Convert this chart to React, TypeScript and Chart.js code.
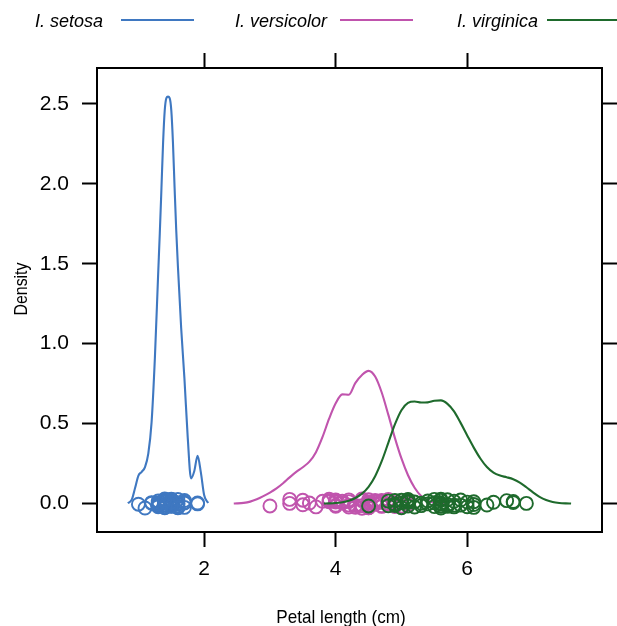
import React, { useEffect, useRef } from "react";
import { Chart, registerables } from "chart.js";

Chart.register(...registerables);

// ---------- data ----------
const SPECIES = ["I. setosa", "I. versicolor", "I. virginica"];
const COLORS = ["#3f78c1", "#c054ad", "#1e6a2c"];
const X_TITLE = "Petal length (cm)";
const Y_TITLE = "Density";
const X_TICKS = [2, 4, 6];
const Y_TICKS = [0, 0.5, 1, 1.5, 2, 2.5];

// petal lengths (observations shown as circles)
const SETOSA_LEN = [1.4, 1.4, 1.3, 1.5, 1.4, 1.7, 1.4, 1.5, 1.4, 1.5, 1.5, 1.6, 1.4, 1.1, 1.2, 1.5, 1.3, 1.4, 1.7, 1.5, 1.7, 1.5, 1.0, 1.7, 1.9, 1.6, 1.6, 1.5, 1.4, 1.6, 1.6, 1.5, 1.5, 1.4, 1.5, 1.2, 1.3, 1.4, 1.3, 1.5, 1.3, 1.3, 1.3, 1.6, 1.9, 1.4, 1.6, 1.4, 1.5, 1.4];
const VERSICOLOR_LEN = [4.7, 4.5, 4.9, 4.0, 4.6, 4.5, 4.7, 3.3, 4.6, 3.9, 3.5, 4.2, 4.0, 4.7, 3.6, 4.4, 4.5, 4.1, 4.5, 3.9, 4.8, 4.0, 4.9, 4.7, 4.3, 4.4, 4.8, 5.0, 4.5, 3.5, 3.8, 3.7, 3.9, 5.1, 4.5, 4.5, 4.7, 4.4, 4.1, 4.0, 4.4, 4.6, 4.0, 3.3, 4.2, 4.2, 4.2, 4.3, 3.0, 4.1];
const VIRGINICA_LEN = [6.0, 5.1, 5.9, 5.6, 5.8, 6.6, 4.5, 6.3, 5.8, 6.1, 5.1, 5.3, 5.5, 5.0, 5.1, 5.3, 5.5, 6.7, 6.9, 5.0, 5.7, 4.9, 6.7, 4.9, 5.7, 6.0, 4.8, 4.9, 5.6, 5.8, 6.1, 6.4, 5.6, 5.1, 5.6, 6.1, 5.6, 5.5, 4.8, 5.4, 5.6, 5.1, 5.1, 5.9, 5.7, 5.2, 5.0, 5.2, 5.4, 5.1];

// vertical jitter of the circles around zero
const SETOSA_JIT = [0.012, -0.021, 0.004, 0.027, -0.008, 0.019, -0.026, 0.001, 0.023, -0.015, 0.009, -0.004, 0.017, -0.028, 0.006, 0.021, -0.012, -0.019, 0.003, 0.014, -0.024, 0.026, -0.004, 0.008, 0.003, -0.002, -0.027, 0.011, 0.024, -0.017, 0.005, -0.009, 0.02, -0.023, 0.015, 0.002, -0.014, 0.028, -0.006, 0.01, -0.02, 0.016, -0.003, 0.025, -0.002, 0.007, -0.025, 0.013, -0.018, 0.022];
const VERSICOLOR_JIT = [-0.018, 0.024, 0.006, -0.011, 0.019, -0.027, 0.013, 0.026, -0.005, 0.017, 0.021, -0.022, 0.009, -0.014, 0.003, 0.028, -0.009, 0.015, -0.024, 0.011, -0.003, 0.022, -0.019, 0.007, -0.012, 0.018, 0.025, -0.016, 0.002, -0.008, 0.014, -0.021, 0.027, -0.006, 0.01, -0.026, 0.02, -0.013, 0.004, 0.016, -0.029, 0.008, -0.017, 0.001, 0.023, -0.01, 0.012, -0.023, -0.015, 0.005];
const VIRGINICA_JIT = [0.009, -0.016, 0.022, -0.004, 0.014, 0.018, -0.015, -0.009, -0.021, 0.011, 0.025, -0.013, 0.005, -0.026, 0.017, 0.002, -0.019, 0.013, 0.001, 0.021, -0.007, -0.012, 0.006, 0.019, 0.024, -0.02, 0.015, -0.003, 0.027, -0.011, -0.024, 0.008, -0.017, 0.012, 0.02, -0.006, 0.003, 0.026, -0.014, 0.016, -0.028, 0.007, 0.023, -0.01, -0.018, 0.01, 0.004, -0.022, -0.002, 0.018];

// density curves (x grid and density values)
const SETOSA_DX = [0.84, 0.9, 0.95, 1.0, 1.05, 1.1, 1.15, 1.2, 1.25, 1.3, 1.325, 1.35, 1.375, 1.4, 1.425, 1.45, 1.475, 1.5, 1.525, 1.55, 1.575, 1.6, 1.65, 1.7, 1.75, 1.8, 1.85, 1.9, 1.95, 2.0, 2.06];
const SETOSA_DY = [0.002, 0.026, 0.099, 0.175, 0.198, 0.228, 0.312, 0.508, 0.908, 1.435, 1.69, 1.97, 2.256, 2.458, 2.536, 2.545, 2.536, 2.459, 2.258, 1.976, 1.709, 1.487, 1.098, 0.78, 0.412, 0.157, 0.204, 0.299, 0.193, 0.052, 0.003];
const VERSICOLOR_DX = [2.45, 2.5, 2.6, 2.7, 2.8, 2.9, 3.0, 3.1, 3.2, 3.3, 3.4, 3.5, 3.6, 3.7, 3.8, 3.9, 4.0, 4.1, 4.2, 4.3, 4.4, 4.5, 4.6, 4.7, 4.8, 4.9, 5.0, 5.1, 5.2, 5.3, 5.4, 5.5, 5.6, 5.65];
const VERSICOLOR_DY = [0.0005, 0.0011, 0.0042, 0.012, 0.0263, 0.046, 0.0688, 0.095, 0.1273, 0.1637, 0.1977, 0.2272, 0.2619, 0.3212, 0.4163, 0.5305, 0.6265, 0.6826, 0.6805, 0.7547, 0.8044, 0.8298, 0.7945, 0.6946, 0.5559, 0.411, 0.2819, 0.1772, 0.099, 0.0471, 0.0184, 0.0057, 0.0014, 0.0007];
const VIRGINICA_DX = [3.82, 3.9, 4.0, 4.1, 4.2, 4.3, 4.4, 4.5, 4.6, 4.7, 4.8, 4.9, 5.0, 5.1, 5.2, 5.3, 5.4, 5.5, 5.6, 5.7, 5.8, 5.9, 6.0, 6.1, 6.2, 6.3, 6.4, 6.5, 6.6, 6.7, 6.8, 6.9, 7.0, 7.1, 7.2, 7.3, 7.4, 7.5, 7.58];
const VIRGINICA_DY = [0.0003, 0.0011, 0.0033, 0.0083, 0.0181, 0.0347, 0.0617, 0.1045, 0.1708, 0.2647, 0.3796, 0.4949, 0.5839, 0.6296, 0.6378, 0.6316, 0.6328, 0.6428, 0.6454, 0.6235, 0.5764, 0.5045, 0.4262, 0.3498, 0.2817, 0.2281, 0.1932, 0.1747, 0.1645, 0.1521, 0.1311, 0.1019, 0.0701, 0.0422, 0.0221, 0.0099, 0.0038, 0.0012, 0.0004];

const X_MIN = 0.37;
const X_MAX = 8.05;
const Y_MIN = -0.178;
const Y_MAX = 2.724;

// ---------- layout ----------
const W = 617;
const H = 626;
const AREA = { left: 97, right: 602, top: 68, bottom: 532 };
const TICK_FONT = { family: '"Liberation Sans", Arial, Helvetica, sans-serif', size: 21 };
const LEGEND_TEXT_X = [35, 235, 457];
const LEGEND_LINE = [[121, 194], [340, 413], [547, 622]];

const pts = (xs: number[], ys: number[]) => xs.map((x, i) => ({ x, y: ys[i] }));

const drawNarrow = (ctx: CanvasRenderingContext2D, text: string, x: number, y: number, sx: number) => {
  ctx.save();
  ctx.translate(x, y);
  ctx.scale(sx, 1);
  ctx.fillText(text, 0, 0);
  ctx.restore();
};

const textPlugin = {
  id: "latticeText",
  afterDraw(chart: any) {
    const ctx = chart.ctx as CanvasRenderingContext2D;
    ctx.save();
    ctx.fillStyle = "#000";
    ctx.textAlign = "center";
    ctx.textBaseline = "alphabetic";
    ctx.font = '19px "Liberation Sans", Arial, sans-serif';
    drawNarrow(ctx, X_TITLE, 341, 623, 0.9);
    ctx.save();
    ctx.translate(27, 289);
    ctx.rotate(-Math.PI / 2);
    ctx.font = '18px "Liberation Sans", Arial, sans-serif';
    drawNarrow(ctx, Y_TITLE, 0, 0, 0.88);
    ctx.restore();
    // legend
    ctx.font = 'italic 18px "Liberation Sans", Arial, sans-serif';
    ctx.textAlign = "left";
    SPECIES.forEach((s, i) => {
      ctx.fillStyle = "#000";
      ctx.fillText(s, LEGEND_TEXT_X[i], 27);
      ctx.strokeStyle = COLORS[i];
      ctx.lineWidth = 2;
      ctx.beginPath();
      ctx.moveTo(LEGEND_LINE[i][0], 20);
      ctx.lineTo(LEGEND_LINE[i][1], 20);
      ctx.stroke();
    });
    ctx.restore();
  },
};

const axisCommon = (position: string, labels: boolean, ticksArr: number[], size: number) => ({
  type: "linear",
  position,
  axis: position === "top" || position === "bottom" ? "x" : "y",
  min: position === "top" || position === "bottom" ? X_MIN : Y_MIN,
  max: position === "top" || position === "bottom" ? X_MAX : Y_MAX,
  grid: {
    drawOnChartArea: false,
    drawTicks: true,
    tickLength: 15,
    tickWidth: 2,
    tickColor: "#000",
  },
  border: { display: true, color: "#000", width: 2 },
  ticks: {
    display: labels,
    color: "#000",
    font: TICK_FONT,
    padding: position === "left" ? 13 : 10,
    maxRotation: 0,
    autoSkip: false,
    callback: (v: number) =>
      position === "left" ? Number(v).toFixed(1) : String(v),
  },
  afterBuildTicks: (s: any) => {
    s.ticks = ticksArr.map((v) => ({ value: v }));
  },
  afterFit: (s: any) => {
    if (position === "top" || position === "bottom") s.height = size;
    else s.width = size;
  },
});

export default function App() {
  const ref = useRef<HTMLCanvasElement | null>(null);

  useEffect(() => {
    if (!ref.current) return;
    const circle = (color: string, order: number, lens: number[], jit: number[]) => ({
      type: "scatter",
      data: pts(lens, jit),
      showLine: false,
      pointStyle: "circle",
      pointRadius: 6.5,
      pointBorderWidth: 1.9,
      pointBorderColor: color,
      pointBackgroundColor: "rgba(0,0,0,0)",
      order,
    });
    const curve = (color: string, order: number, xs: number[], ys: number[]) => ({
      type: "scatter",
      data: pts(xs, ys),
      showLine: true,
      borderColor: color,
      borderWidth: 2.1,
      pointRadius: 0,
      cubicInterpolationMode: "monotone",
      fill: false,
      order,
    });
    const chart = new Chart(ref.current, {
      type: "scatter",
      data: {
        datasets: [
          circle(COLORS[0], 6, SETOSA_LEN, SETOSA_JIT),
          curve(COLORS[0], 5, SETOSA_DX, SETOSA_DY),
          circle(COLORS[1], 4, VERSICOLOR_LEN, VERSICOLOR_JIT),
          curve(COLORS[1], 3, VERSICOLOR_DX, VERSICOLOR_DY),
          circle(COLORS[2], 2, VIRGINICA_LEN, VIRGINICA_JIT),
          curve(COLORS[2], 1, VIRGINICA_DX, VIRGINICA_DY),
        ] as any,
      },
      options: {
        responsive: false,
        animation: false,
        devicePixelRatio: 1,
        clip: false as any,
        layout: { padding: 0 },
        plugins: {
          legend: { display: false },
          tooltip: { enabled: false },
          title: { display: false },
        },
        scales: {
          x: axisCommon("bottom", true, X_TICKS, H - AREA.bottom),
          x2: axisCommon("top", false, X_TICKS, AREA.top),
          y: axisCommon("left", true, Y_TICKS, AREA.left),
          y2: axisCommon("right", false, Y_TICKS, W - AREA.right),
        } as any,
      },
      plugins: [textPlugin],
    } as any);
    return () => chart.destroy();
  }, []);

  return (
    <div style={{ position: "absolute", left: 0, top: 0, width: W, height: H, background: "#fff" }}>
      <canvas ref={ref} width={W} height={H} style={{ width: W, height: H, display: "block" }} />
    </div>
  );
}
